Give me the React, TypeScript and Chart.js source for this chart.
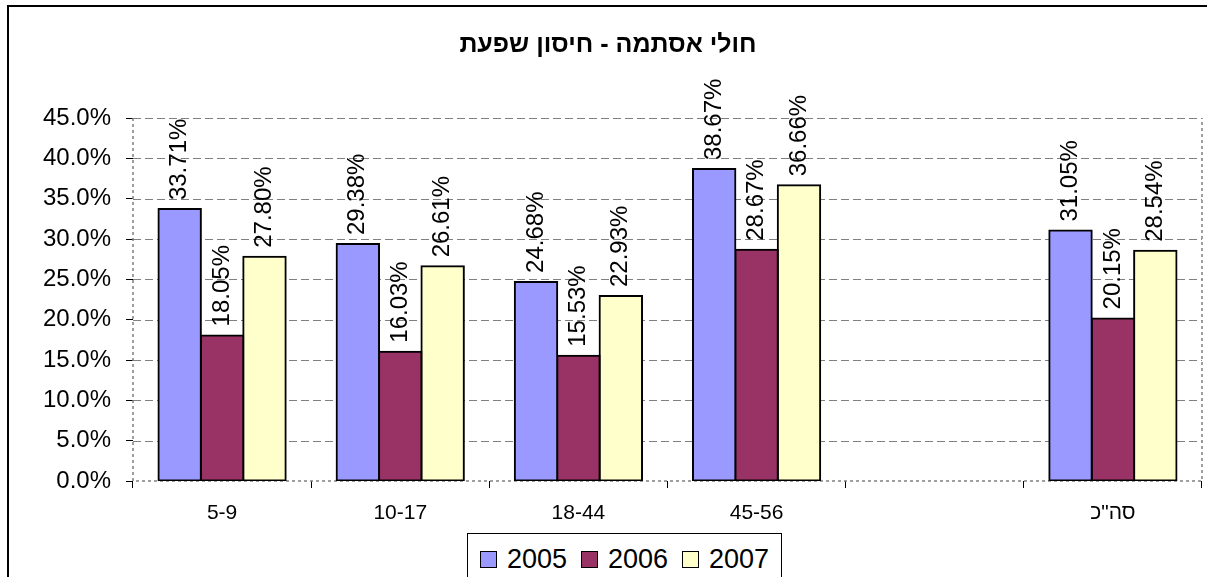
import React, { useEffect, useRef } from "react";
import { Chart, registerables } from "chart.js";

Chart.register(...registerables);

// Age groups (the blank slot keeps a gap before the total column)
const categories = ["5-9", "10-17", "18-44", "45-56", "", 'סה"כ'];
const seriesNames = ["2005", "2006", "2007"];
const seriesColors = ["#9999FF", "#993366", "#FFFFCC"];
const values2005 = [33.71, 29.38, 24.68, 38.67, null, 31.05];
const values2006 = [18.05, 16.03, 15.53, 28.67, null, 20.15];
const values2007 = [27.8, 26.61, 22.93, 36.66, null, 28.54];
const yMax = 45;
const yStep = 5;
const titleText = "חולי אסתמה - חיסון שפעת";

const FONT = '"Liberation Sans", Arial, Helvetica, sans-serif';

// Dashed gridlines and dotted plot-area frame, drawn behind the bars
const framePlugin = {
  id: "frameLines",
  beforeDatasetsDraw(chart: any) {
    const { ctx, chartArea: a, scales } = chart;
    const y = scales.y;
    ctx.save();
    ctx.strokeStyle = "#808080";
    ctx.lineWidth = 1;
    ctx.setLineDash([8, 4]);
    y.ticks.forEach((t: any) => {
      if (t.value === 0) return;
      const py = Math.round(y.getPixelForValue(t.value)) + 0.5;
      ctx.beginPath();
      ctx.moveTo(a.left, py);
      ctx.lineTo(a.right, py);
      ctx.stroke();
    });
    ctx.setLineDash([3, 3]);
    ctx.lineWidth = 1.5;
    ctx.beginPath();
    ctx.moveTo(a.left, a.top);
    ctx.lineTo(a.left, a.bottom);
    ctx.lineTo(a.right, a.bottom);
    ctx.lineTo(a.right, a.top);
    ctx.stroke();
    ctx.restore();
  },
};

// Vertical value labels above every bar
const valueLabelPlugin = {
  id: "valueLabels",
  afterDatasetsDraw(chart: any) {
    const { ctx } = chart;
    ctx.save();
    ctx.font = `24px ${FONT}`;
    ctx.fillStyle = "#000";
    ctx.textAlign = "left";
    ctx.textBaseline = "middle";
    chart.data.datasets.forEach((ds: any, di: number) => {
      const meta = chart.getDatasetMeta(di);
      meta.data.forEach((bar: any, i: number) => {
        const v = ds.data[i];
        if (v == null) return;
        ctx.save();
        ctx.translate(bar.x, bar.y - 9);
        ctx.rotate(-Math.PI / 2);
        ctx.fillText(v.toFixed(2) + "%", 0, 0);
        ctx.restore();
      });
    });
    ctx.restore();
  },
};

// Title centred across the canvas
const titlePlugin = {
  id: "chartTitle",
  afterDraw(chart: any) {
    const { ctx } = chart;
    ctx.save();
    ctx.font = `bold 25px ${FONT}`;
    ctx.fillStyle = "#000";
    ctx.textAlign = "center";
    ctx.textBaseline = "middle";
    ctx.fillText(titleText, chart.width / 2, 38);
    ctx.restore();
  },
};

export default function App() {
  const canvasRef = useRef<HTMLCanvasElement | null>(null);

  useEffect(() => {
    if (!canvasRef.current) return;
    const seriesValues = [values2005, values2006, values2007];
    const chart = new Chart(canvasRef.current, {
      type: "bar",
      data: {
        labels: categories,
        datasets: seriesNames.map((name, i) => ({
          label: name,
          data: seriesValues[i],
          backgroundColor: seriesColors[i],
          borderColor: "#000",
          borderWidth: 2,
          borderSkipped: false,
          inflateAmount: 1,
          categoryPercentage: 0.714,
          barPercentage: 1,
        })),
      },
      options: {
        animation: false,
        responsive: false,
        maintainAspectRatio: false,
        devicePixelRatio: 1,
        layout: { padding: { top: 111, right: 5, left: 0, bottom: 0 } },
        plugins: {
          legend: { display: false },
          title: { display: false },
          tooltip: { enabled: false },
        },
        scales: {
          x: {
            grid: {
              display: true,
              drawOnChartArea: false,
              drawTicks: true,
              tickLength: 7,
              tickColor: "#000",
              tickWidth: 1,
              offset: true,
            },
            border: { display: false },
            ticks: {
              font: { size: 21, family: FONT },
              color: "#000",
              padding: 13,
              autoSkip: false,
              maxRotation: 0,
            },
            afterFit: (s: any) => {
              s.height = 96;
            },
          },
          y: {
            min: 0,
            max: yMax,
            grid: {
              drawOnChartArea: false,
              drawTicks: true,
              tickLength: 7,
              tickColor: "#000",
              tickWidth: 1,
            },
            border: { display: false },
            ticks: {
              stepSize: yStep,
              font: { size: 24, family: FONT },
              color: "#000",
              padding: 15,
              callback: (v: any) => Number(v).toFixed(1) + "%",
            },
            afterFit: (s: any) => {
              s.width = 124;
            },
          },
        },
      } as any,
      plugins: [framePlugin, valueLabelPlugin, titlePlugin],
    });
    return () => chart.destroy();
  }, []);

  return (
    <div
      style={{
        position: "fixed",
        left: 0,
        top: 0,
        width: 1207,
        height: 577,
        overflow: "hidden",
        background: "#fff",
      }}
    >
      <div
        style={{
          position: "absolute",
          left: 7,
          top: 5,
          width: 1300,
          height: 700,
          border: "2px solid #000",
          boxSizing: "border-box",
        }}
      />
      <canvas
        ref={canvasRef}
        width={1198}
        height={570}
        style={{ position: "absolute", left: 9, top: 7, width: 1198, height: 570 }}
      />
      <div
        style={{
          position: "absolute",
          left: 467,
          top: 533,
          width: 315,
          height: 52,
          boxSizing: "border-box",
          border: "1px solid #000",
          background: "#fff",
          display: "flex",
          alignItems: "center",
          justifyContent: "center",
          fontFamily: FONT,
          fontSize: 27,
          color: "#000",
        }}
      >
        {seriesNames.map((name, i) => (
          <div
            key={name}
            style={{
              display: "flex",
              alignItems: "center",
              marginLeft: i === 0 ? 0 : 14,
              lineHeight: "30px",
            }}
          >
            <span
              style={{
                display: "inline-block",
                width: 17,
                height: 17,
                boxSizing: "border-box",
                border: "1px solid #000",
                background: seriesColors[i],
                marginRight: 10,
              }}
            />
            <span>{name}</span>
          </div>
        ))}
      </div>
    </div>
  );
}
